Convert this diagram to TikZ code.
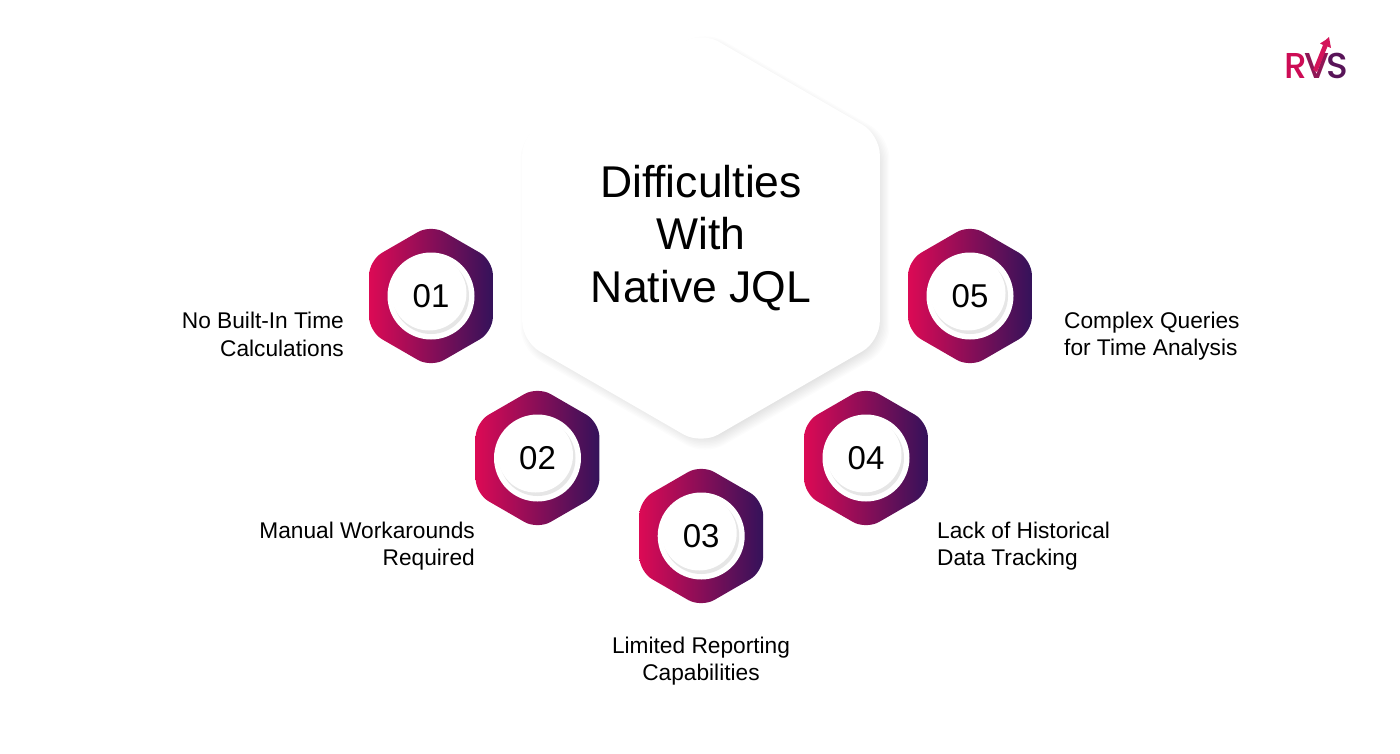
\documentclass[tikz,border=0pt]{standalone}
\usepackage{fontspec}
\setmainfont{Liberation Sans}
\newfontfamily\logofont{Poppins Medium}
\usetikzlibrary{shapes.geometric}
\definecolor{hexred}{HTML}{DC0A55}
\definecolor{hexmid}{HTML}{8E1755}
\definecolor{hexblue}{HTML}{34125A}
\definecolor{ringgray}{HTML}{E6E6E6}
\definecolor{logored}{HTML}{D4145A}
\tikzset{
  hexbase/.style = {shape=regular polygon, regular polygon sides=6, shape border rotate=30, inner sep=0pt},
  bighex/.style = {hexbase, minimum size=413pt, rounded corners=20pt, fill=white,
    align=center, font=\fontsize{44.5}{52.5}\selectfont},
  bigshadow/.style = {hexbase, rounded corners=22pt, fill=black, opacity=0.011},
  smallhex/.style = {hexbase, minimum size=143pt, rounded corners=15pt,
    left color=hexred, middle color=hexmid, right color=hexblue},
  ringdisc/.style = {shape=circle, inner sep=0pt, minimum size=87pt, fill=white},
  ringshade/.style = {shape=circle, inner sep=0pt, minimum size=76pt, fill=ringgray},
  numdisc/.style = {shape=circle, inner sep=0pt, minimum size=75pt, fill=white,
    font=\fontsize{33}{33}\selectfont},
  sidelabel/.style = {inner sep=0pt, font=\fontsize{22.7}{27.5}\selectfont}
}
\begin{document}
\begin{tikzpicture}[x=1pt, y=-1pt]
  \useasboundingbox[fill=white] (0,0) rectangle (1400,754);
  % soft shadow under the big hexagon
  \foreach \grow in {0,3,...,27}
    \node[bigshadow, minimum size=399pt+\grow pt] at (705,243) {};
  \node[bighex] (title) at (701,238) {Difficulties\\With\\Native JQL};
  % numbered hexagons
  \foreach \name/\px/\py/\num in {one/431/296/01, two/537.5/458/02, three/701.2/536/03,
      four/866/458/04, five/970/296/05} {
    \node[smallhex] (hex\name) at (\px,\py) {};
    \node[ringdisc] (ring\name) at (\px,\py) {};
    \node[ringshade] (shade\name) at (\px,\py) {};
    \node[numdisc] (num\name) at (\px-2,\py-3) {};
    \node[font=\fontsize{33}{33}\selectfont, inner sep=0pt] (txt\name) at (\px,\py) {\num};
  }
  \node[sidelabel, anchor=east, align=right] (labone) at (344,334.5) {No Built-In Time\\Calculations};
  \node[sidelabel, anchor=east, align=right] (labtwo) at (475,546) {Manual Workarounds\\Required};
  \node[sidelabel, align=center] (labthree) at (701,661) {Limited Reporting\\Capabilities};
  \node[sidelabel, anchor=west, align=left] (labfour) at (937,546) {Lack of Historical\\Data Tracking};
  \node[sidelabel, anchor=west, align=left] (labfive) at (1064,336) {Complex Queries\\for Time Analysis};
  % logo
  \node[inner sep=0pt, font=\logofont\fontsize{36}{36}\selectfont] (logo) at (1316.5,65.5)
    {\textcolor{hexred!80!hexmid}{R}\kern-3pt\textcolor{hexmid}{V}\kern-3pt\textcolor{hexblue!60!hexmid}{S}};
  \fill[logored] (1325.5,40) -- (1329,37) -- (1331,48) -- (1327.5,46.5) -- (1317,72) -- (1313,70) -- (1323,45) -- (1320,43.5) -- cycle;
\end{tikzpicture}
\end{document}
